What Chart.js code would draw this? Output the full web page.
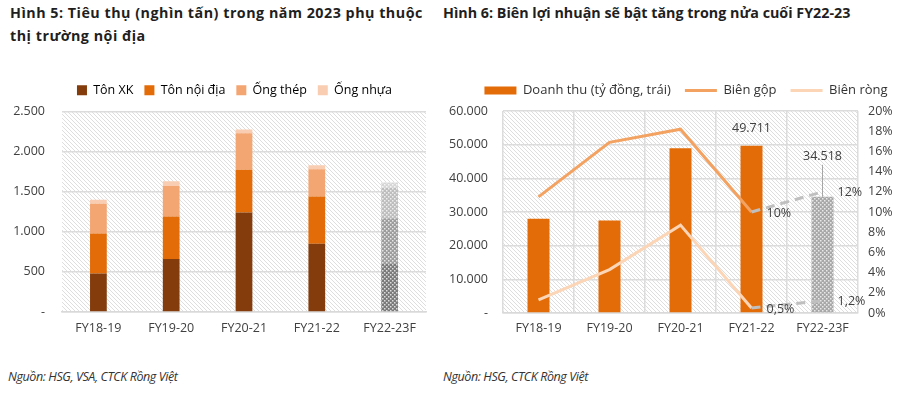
<!DOCTYPE html>
<html>
<head>
<meta charset="utf-8">
<script src="https://cdn.jsdelivr.net/npm/chart.js@4.4.0/dist/chart.umd.min.js"></script>
<style>
  html, body { margin: 0; padding: 0; background: #fff; }
  body { width: 912px; height: 399px; position: relative; overflow: hidden; font-family: "Open Sans", sans-serif; }
  .title { position: absolute; font-weight: 700; font-size: 14.3px; line-height: 23px; color: #1f1f1f; white-space: nowrap; }
  .source { position: absolute; top: 368px; font-style: italic; font-size: 12.5px; letter-spacing: -0.4px; color: #333; }
  .box { position: absolute; top: 60px; height: 282px; }
</style>
</head>
<body>
<div class="title" style="left:10px; top:1px; letter-spacing:0.5px;">Hình 5: Tiêu thụ (nghìn tấn) trong năm 2023 phụ thuộc<br>thị trường nội địa</div>
<div class="title" style="left:443px; top:1px;">Hình 6: Biên lợi nhuận sẽ bật tăng trong nửa cuối FY22-23</div>
<div class="box" style="left:0; width:469px;"><canvas id="volume"></canvas></div>
<div class="box" style="left:440px; width:492px;"><canvas id="margin"></canvas></div>
<div class="source" style="left:8px;">Nguồn: HSG, VSA, CTCK Rồng Việt</div>
<div class="source" style="left:443px;">Nguồn: HSG, CTCK Rồng Việt</div>

<script>
// Categories (last one is the forecast year)
const categories = ["FY18-19", "FY19-20", "FY20-21", "FY21-22", "FY22-23F"];

// Hình 5 - consumption, thousand tonnes
const tonXK = [480, 660, 1240, 850, 600];
const tonNoiDia = [500, 530, 535, 590, 570];
const ongThep = [370, 380, 455, 340, 375];
const ongNhua = [50, 60, 45, 50, 70];

// Hình 6 - revenue (bn VND) and margins (%)
const doanhThu = [28000, 27500, 48900, 49711, 34518];
const bienGop = [11.5, 16.9, 18.2, 10, 12];
const bienRong = [1.3, 4.3, 8.7, 0.5, 1.2];

const forecast = categories.map(c => c.endsWith("F"));
const thousands = v => String(v).replace(/\B(?=(\d{3})+(?!\d))/g, ".");
const pct = v => String(v).replace(".", ",") + "%";

Chart.defaults.font.family = "'Open Sans', sans-serif";
Chart.defaults.font.size = 12.5;
Chart.defaults.color = "#404040";

// little tiles for the plot hatch and the dotted forecast bars
function hatch(ctx) {
  const c = document.createElement("canvas");
  c.width = 4; c.height = 4;
  const g = c.getContext("2d");
  g.fillStyle = "#fff";
  g.fillRect(0, 0, 4, 4);
  g.strokeStyle = "#dedede";
  g.lineWidth = 1;
  g.beginPath();
  g.moveTo(-1, -1); g.lineTo(5, 5);
  g.moveTo(-1, 3); g.lineTo(1, 5);
  g.moveTo(3, -1); g.lineTo(5, 1);
  g.stroke();
  return ctx.createPattern(c, "repeat");
}

function dots(ctx, base) {
  const c = document.createElement("canvas");
  c.width = 4; c.height = 4;
  const g = c.getContext("2d");
  g.fillStyle = base;
  g.fillRect(0, 0, 4, 4);
  g.fillStyle = "rgba(255,255,255,0.75)";
  g.fillRect(0, 0, 1.5, 1.5);
  g.fillRect(2, 2, 1.5, 1.5);
  return ctx.createPattern(c, "repeat");
}

function plotBg(pattern) {
  return {
    id: "plotBg",
    beforeDraw(chart) {
      const { ctx, chartArea: a } = chart;
      ctx.save();
      ctx.fillStyle = pattern;
      ctx.fillRect(a.left, a.top, a.width, a.height);
      ctx.restore();
    }
  };
}

// push the plot a few px further below the legend
function legendGap(extra) {
  return {
    id: "legendGap",
    afterInit(chart) {
      const fit = chart.legend.fit;
      chart.legend.fit = function () {
        fit.call(this);
        this.height += extra;
      };
    }
  };
}

// ---------- Hình 5 ----------
const volCtx = document.getElementById("volume").getContext("2d");
const colorsFor = (color, grey) => forecast.map(f => f ? dots(volCtx, grey) : color);

new Chart(volCtx, {
  type: "bar",
  data: {
    labels: categories,
    datasets: [
      { label: "Tôn XK", data: tonXK, backgroundColor: colorsFor("#843C0C", "#7a7a7a") },
      { label: "Tôn nội địa", data: tonNoiDia, backgroundColor: colorsFor("#E36C09", "#9c9c9c") },
      { label: "Ống thép", data: ongThep, backgroundColor: colorsFor("#F4A672", "#bdbdbd") },
      { label: "Ống nhựa", data: ongNhua, backgroundColor: colorsFor("#F9CDB2", "#d6d6d6") }
    ]
  },
  options: {
    responsive: true,
    maintainAspectRatio: false,
    animation: false,
    layout: { padding: { top: 13, right: 0, left: 0, bottom: 0 } },
    datasets: { bar: { barPercentage: 0.23, categoryPercentage: 1 } },
    plugins: {
      legend: {
        labels: {
          boxWidth: 10,
          boxHeight: 10,
          padding: 11,
          color: "#333",
          font: { size: 12.5 },
          generateLabels(chart) {
            return chart.data.datasets.map((ds, i) => ({
              text: ds.label,
              fillStyle: ds.backgroundColor[0],
              strokeStyle: ds.backgroundColor[0],
              lineWidth: 0,
              datasetIndex: i
            }));
          }
        }
      },
      tooltip: { enabled: false }
    },
    scales: {
      x: {
        stacked: true,
        grid: { display: false, drawTicks: false },
        border: { color: "#d9d9d9", width: 1.5 },
        ticks: { padding: 9 },
        afterFit(scale) { scale.height = 30; }
      },
      y: {
        stacked: true,
        min: 0,
        max: 2500,
        ticks: { stepSize: 500, padding: 17, callback: v => v === 0 ? "-" : thousands(v) },
        grid: { color: "#dcdcdc", lineWidth: 1.5, drawTicks: false },
        border: { display: false },
        afterFit(scale) { scale.width = 62; }
      },
      // empty spacer on the right so the legend centres like the original
      spacer: {
        position: "right",
        display: true,
        grid: { display: false, drawTicks: false },
        border: { display: false },
        ticks: { display: false },
        afterFit(scale) { scale.width = 43; }
      }
    }
  },
  plugins: [plotBg(hatch(volCtx)), legendGap(5)]
});

// ---------- Hình 6 ----------
const marCtx = document.getElementById("margin").getContext("2d");
const dashedLast = color => ({
  borderColor: c => forecast[c.p1DataIndex] ? "#bfbfbf" : color,
  borderDash: c => forecast[c.p1DataIndex] ? [9, 6] : []
});

const valueLabels = {
  id: "valueLabels",
  afterDatasetsDraw(chart) {
    const { ctx } = chart;
    ctx.save();
    ctx.font = "12.5px 'Open Sans'";
    ctx.fillStyle = "#404040";

    // revenue values on the last two bars
    const bars = chart.getDatasetMeta(0).data;
    ctx.textAlign = "center";
    ctx.textBaseline = "middle";
    [3, 4].forEach(i => {
      const b = bars[i];
      const lift = forecast[i] ? 40 : 17;
      ctx.fillText(thousands(doanhThu[i]), b.x, b.y - lift);
      if (forecast[i]) {
        ctx.strokeStyle = "#a6a6a6";
        ctx.lineWidth = 1;
        ctx.beginPath();
        ctx.moveTo(b.x, b.y - lift + 8);
        ctx.lineTo(b.x, b.y);
        ctx.stroke();
      }
    });

    // margin values to the right of the last two points
    ctx.textAlign = "left";
    [[1, bienGop], [2, bienRong]].forEach(([d, values]) => {
      const pts = chart.getDatasetMeta(d).data;
      [3, 4].forEach(i => {
        ctx.fillText(pct(values[i]), pts[i].x + 15, pts[i].y + 1);
      });
    });
    ctx.restore();
  }
};

new Chart(marCtx, {
  type: "bar",
  data: {
    labels: categories,
    datasets: [
      {
        label: "Doanh thu (tỷ đồng, trái)",
        data: doanhThu,
        yAxisID: "y",
        order: 2,
        pointStyle: "rect",
        backgroundColor: forecast.map(f => f ? dots(marCtx, "#a8a8a8") : "#E36C09"),
        barPercentage: 0.31,
        categoryPercentage: 1
      },
      {
        type: "line",
        label: "Biên gộp",
        data: bienGop,
        yAxisID: "y1",
        order: 1,
        pointStyle: "line",
        borderColor: "#F3A261",
        backgroundColor: "#F3A261",
        borderWidth: 3,
        pointRadius: 0,
        tension: 0,
        segment: dashedLast("#F3A261")
      },
      {
        type: "line",
        label: "Biên ròng",
        data: bienRong,
        yAxisID: "y1",
        order: 0,
        pointStyle: "line",
        borderColor: "#FBD5B5",
        backgroundColor: "#FBD5B5",
        borderWidth: 3,
        pointRadius: 0,
        tension: 0,
        segment: dashedLast("#FBD5B5")
      }
    ]
  },
  options: {
    responsive: true,
    maintainAspectRatio: false,
    animation: false,
    layout: { padding: { top: 10, right: 0, left: 0, bottom: 0 } },
    plugins: {
      legend: {
        labels: {
          usePointStyle: true,
          pointStyleWidth: 32,
          boxHeight: 8,
          padding: 14,
          color: "#333",
          font: { size: 13 },
          sort: (a, b) => a.datasetIndex - b.datasetIndex
        }
      },
      tooltip: { enabled: false }
    },
    scales: {
      x: {
        grid: { color: "#dcdcdc", lineWidth: 1.5, drawTicks: false },
        border: { color: "#d9d9d9", width: 1.5 },
        ticks: { padding: 8 },
        afterFit(scale) { scale.height = 29; }
      },
      y: {
        position: "left",
        min: 0,
        max: 60000,
        ticks: { stepSize: 10000, padding: 15, callback: v => v === 0 ? "-" : thousands(v) },
        grid: { color: "#dcdcdc", lineWidth: 1.5, drawTicks: false },
        border: { display: false },
        afterFit(scale) { scale.width = 63; }
      },
      y1: {
        position: "right",
        min: 0,
        max: 20,
        ticks: { stepSize: 2, padding: 10, callback: v => v + "%" },
        grid: { display: false, drawTicks: false },
        border: { display: false },
        afterFit(scale) { scale.width = 74; }
      }
    }
  },
  plugins: [plotBg(hatch(marCtx)), valueLabels, legendGap(4)]
});
</script>
</body>
</html>
